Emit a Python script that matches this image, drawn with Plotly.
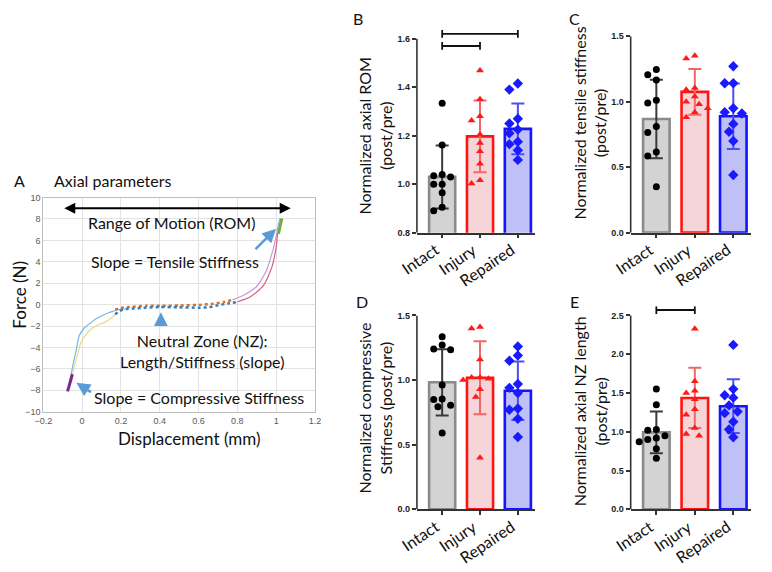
import plotly.graph_objects as go

FONT = "Lato, Open Sans, sans-serif"

# ---------------- Panel A: force-displacement curves ----------------
blue_load_x = [-0.072, -0.062, -0.048, -0.03, -0.015, 0.01, 0.036, 0.065, 0.095, 0.13, 0.162, 0.19, 0.22]
blue_load_y = [-8.0, -7.0, -5.7, -4.2, -2.9, -2.2, -1.8, -1.4, -1.1, -0.8, -0.6, -0.45, -0.4]
yellow_x = [-0.05, -0.035, -0.02, -0.006, 0.02, 0.044, 0.075, 0.11, 0.135, 0.153, 0.17, 0.185]
yellow_y = [-6.5, -5.4, -4.4, -3.5, -2.8, -2.3, -1.95, -1.7, -1.45, -1.2, -0.95, -0.75]
comp_seg_x = [-0.075, -0.05]
comp_seg_y = [-8.1, -6.5]
nz_blue_x = [0.17, 0.19, 0.21, 0.27, 0.33, 0.4, 0.5, 0.6, 0.65, 0.7, 0.75, 0.8]
nz_blue_y = [-0.9, -0.65, -0.45, -0.35, -0.28, -0.22, -0.25, -0.28, -0.25, -0.05, 0.1, 0.25]
nz_orange_x = [0.17, 0.2, 0.25, 0.33, 0.4, 0.5, 0.6, 0.68, 0.73, 0.775]
nz_orange_y = [-0.45, -0.3, -0.2, -0.1, -0.1, -0.08, -0.02, 0.1, 0.25, 0.45]
ten_pink_x = [0.775, 0.835, 0.9, 0.95, 0.987, 1.0, 1.012, 1.02]
ten_pink_y = [0.45, 0.9, 1.7, 3.2, 5.35, 6.4, 7.5, 8.1]
ten_red_x = [0.8, 0.87, 0.936, 0.978, 1.0, 1.007]
ten_red_y = [0.25, 0.76, 1.83, 3.5, 5.35, 6.6]
ten_seg_x = [1.012, 1.029]
ten_seg_y = [6.6, 8.05]

# ---------------- Bar panels ----------------
categories = ["Intact", "Injury", "Repaired"]

rom_mean = [1.03, 1.197, 1.228]
rom_sd = [0.13, 0.148, 0.105]
rom_intact = [1.334, 1.162, 1.04, 1.035, 1.03, 1.0, 1.0, 0.965, 0.905, 0.89]
rom_injury = [1.469, 1.35, 1.28, 1.263, 1.205, 1.17, 1.136, 1.084, 1.016, 1.003]
rom_repaired = [1.415, 1.39, 1.27, 1.25, 1.225, 1.21, 1.175, 1.165, 1.14, 1.1]

tens_mean = [0.868, 1.075, 0.888]
tens_sd = [0.30, 0.175, 0.25]
tens_intact = [1.245, 1.205, 1.165, 1.01, 0.99, 0.81, 0.765, 0.615, 0.585, 0.35]
tens_injury = [1.35, 1.33, 1.105, 1.09, 1.04, 1.0, 0.98, 0.95, 0.92, 0.88]
tens_repaired = [1.27, 1.14, 1.14, 0.95, 0.92, 0.91, 0.83, 0.77, 0.7, 0.44]

comp_mean = [0.983, 1.018, 0.917]
comp_sd = [0.256, 0.283, 0.226]
comp_intact = [1.335, 1.272, 1.24, 1.234, 0.963, 0.854, 0.85, 0.806, 0.793, 0.59]
comp_injury = [1.41, 1.4, 1.16, 1.02, 1.02, 1.01, 1.0, 0.93, 0.87, 0.4]
comp_repaired = [1.26, 1.19, 1.15, 0.97, 0.94, 0.9, 0.78, 0.77, 0.7, 0.56]

nzl_mean = [0.992, 1.436, 1.33]
nzl_sd = [0.27, 0.388, 0.346]
nzl_intact = [1.55, 1.35, 1.03, 1.02, 0.95, 0.92, 0.9, 0.87, 0.78, 0.66]
nzl_injury = [2.33, 1.53, 1.5, 1.65, 1.42, 1.29, 1.22, 1.05, 0.97, 0.95]
nzl_repaired = [2.12, 1.55, 1.47, 1.44, 1.34, 1.26, 1.24, 1.13, 1.03, 0.93]

sig_rom = [("Intact", "Repaired", 1.62), ("Intact", "Injury", 1.57)]
sig_nzl = [("Intact", "Injury", 2.57)]

fill_colors = ["#d3d3d3", "#f6d5d9", "#bfc0f6"]
edge_colors = ["#8a8a8a", "#ff1414", "#1414ff"]
err_colors = ["#3a3a3a", "#f06868", "#4d4df0"]
pt_colors = ["#000000", "#ff1a1a", "#1a1aff"]
pt_symbols = ["circle", "triangle-up", "diamond"]
W, H = 772, 572

fig = go.Figure()


def line(x, y, color, width, dash=None):
    fig.add_trace(go.Scatter(x=x, y=y, mode="lines", xaxis="x", yaxis="y",
                             line=dict(color=color, width=width, dash=dash, shape="spline", smoothing=0.6),
                             showlegend=False, hoverinfo="skip"))


line(blue_load_x, blue_load_y, "#74b9e3", 1.2)
line(yellow_x, yellow_y, "#e9d98a", 1.2)
line(ten_pink_x, ten_pink_y, "#c89ad2", 1.2)
line(ten_red_x, ten_red_y, "#d4607e", 1.2)
line(nz_orange_x, nz_orange_y, "#e2711d", 2.5, "dot")
line(nz_blue_x, nz_blue_y, "#2f7fc1", 2.5, "dot")
line(comp_seg_x, comp_seg_y, "#7a2a8c", 3)
line(ten_seg_x, ten_seg_y, "#6cad45", 3)


def swarm(vals, px_per_unit, px_per_cat, d=8.6):
    order = sorted(range(len(vals)), key=lambda i: -vals[i])
    placed = []
    res = [0.0] * len(vals)
    cands = [0, -d / 2, d / 2, -d, d, -1.5 * d, 1.5 * d, -2 * d, 2 * d]
    for i in order:
        y = vals[i] * px_per_unit
        for c in cands:
            if all((c - px) ** 2 + (y - py) ** 2 >= (d * 0.95) ** 2 for px, py in placed):
                placed.append((c, y))
                res[i] = c / px_per_cat
                break
    return res


panels = [
    ("2", rom_mean, rom_sd, [rom_intact, rom_injury, rom_repaired], 246.75),
    ("3", tens_mean, tens_sd, [tens_intact, tens_injury, tens_repaired], 133.3),
    ("4", comp_mean, comp_sd, [comp_intact, comp_injury, comp_repaired], 131.5),
    ("5", nzl_mean, nzl_sd, [nzl_intact, nzl_injury, nzl_repaired], 78.9),
]
PX_CAT = 38.5
for n, means, sds, groups, ppu in panels:
    for k in range(3):
        fig.add_trace(go.Bar(
            x=[k], y=[means[k]], width=0.69, xaxis="x" + n, yaxis="y" + n,
            marker=dict(color=fill_colors[k], line=dict(color=edge_colors[k], width=2.6)),
            error_y=dict(type="data", array=[sds[k]], visible=True, color=err_colors[k],
                         thickness=2, width=6.5),
            showlegend=False, hoverinfo="skip"))
    for k in range(3):
        offs = swarm(groups[k], ppu, PX_CAT)
        fig.add_trace(go.Scatter(
            x=[k + o for o in offs], y=groups[k], mode="markers",
            xaxis="x" + n, yaxis="y" + n,
            marker=dict(color=pt_colors[k], symbol=pt_symbols[k],
                        size=8 if k == 2 else 7, line=dict(width=0)),
            showlegend=False, hoverinfo="skip", cliponaxis=False))


def px_x(px):
    return px / W


def px_y(py):
    return 1 - py / H


axis_font = dict(family="Liberation Sans, Arial", size=9, color="#222222", weight="bold")
layout = dict(
    width=W, height=H, margin=dict(l=0, r=0, t=0, b=0),
    paper_bgcolor="white", plot_bgcolor="white", barmode="overlay",
    font=dict(family=FONT, color="#111111"),
    xaxis=dict(domain=[px_x(35), px_x(312)], range=[-0.2, 1.2], dtick=0.2,
               showgrid=True, gridcolor="#e3e3e3", gridwidth=1, zeroline=False,
               showline=True, mirror=True, linecolor="#bdbdbd", linewidth=1,
               tickfont=dict(family="Liberation Sans, Arial", size=9, color="#595959"),
               ticks="", anchor="y"),
    yaxis=dict(domain=[px_y(414), px_y(196)], range=[-10, 10], dtick=2,
               showgrid=True, gridcolor="#e3e3e3", gridwidth=1, zeroline=False,
               showline=True, mirror=True, linecolor="#bdbdbd", linewidth=1,
               tickfont=dict(family="Liberation Sans, Arial", size=9, color="#595959"),
               ticks="", anchor="x"),
)

bar_axes = {
    "2": dict(xd=[416, 536.7], yd=[231.7, 19.5], yr=[0.8, 1.66], ticks=[0.8, 1.0, 1.2, 1.4, 1.6], top=1.6),
    "3": dict(xd=[634, 756.7], yd=[231.7, 31.7], yr=[0, 1.5], ticks=[0.0, 0.5, 1.0, 1.5], top=1.5),
    "4": dict(xd=[416, 536.7], yd=[513.3, 316], yr=[0, 1.5], ticks=[0.0, 0.5, 1.0, 1.5], top=1.5),
    "5": dict(xd=[634, 756.7], yd=[513.3, 306.5], yr=[0, 2.62], ticks=[0.0, 0.5, 1.0, 1.5, 2.0, 2.5], top=2.5),
}
shapes = []
ann = []
for n, a in bar_axes.items():
    layout["xaxis" + n] = dict(
        domain=[px_x(a["xd"][0]), px_x(a["xd"][1])], range=[-0.667, 2.46],
        tickvals=[0, 1, 2], showticklabels=False,
        showline=True, linecolor="#333333", linewidth=1.6, ticks="outside",
        ticklen=4, tickwidth=1.5, tickcolor="#333333", showgrid=False,
        zeroline=False, anchor="y" + n)
    layout["yaxis" + n] = dict(
        domain=[px_y(a["yd"][0]), px_y(a["yd"][1])], range=a["yr"],
        tickvals=a["ticks"], ticktext=["%.1f" % t for t in a["ticks"]],
        tickfont=axis_font, showline=False, ticks="outside", ticklen=4,
        tickwidth=1.5, tickcolor="#333333", showgrid=False, zeroline=False,
        anchor="x" + n)
    shapes.append(dict(type="line", xref="x%s domain" % n, yref="y" + n,
                       x0=0, x1=0, y0=a["yr"][0], y1=a["top"],
                       line=dict(color="#333333", width=1.6)))
    # rotated category labels, their upper-right end at the tick
    for k, c in enumerate(categories):
        ann.append(dict(x=k, y=0, xref="x" + n, yref="y%s domain" % n, text=c,
                        showarrow=False, textangle=-34, xanchor="right", yanchor="top",
                        xshift=3, yshift=-4, font=dict(family=FONT, size=16, color="#111111")))


def bracket(n, sigs, cap):
    for a, b, lvl in sigs:
        i, j = categories.index(a), categories.index(b)
        path = "M %g,%g L %g,%g M %g,%g L %g,%g M %g,%g L %g,%g" % (
            i, lvl - cap, i, lvl + cap, i, lvl, j, lvl, j, lvl - cap, j, lvl + cap)
        shapes.append(dict(type="path", xref="x" + n, yref="y" + n, path=path,
                           line=dict(color="#111111", width=1.8)))


bracket("2", sig_rom, 0.016)
bracket("5", sig_nzl, 0.05)

layout["shapes"] = shapes

TXT = dict(family=FONT, color="#111111")


def text(x, y, s, size, xanchor="center", yanchor="middle", angle=0):
    ann.append(dict(x=x, y=y, xref="paper", yref="paper", text=s, showarrow=False,
                    xanchor=xanchor, yanchor=yanchor, textangle=angle,
                    font=dict(size=size, **TXT)))


text(px_x(3), px_y(179), "A", 16, xanchor="left")
text(px_x(44), px_y(179), "Axial parameters", 16, xanchor="left")
text(px_x(356), px_y(14), "B", 16)
text(px_x(577), px_y(14), "C", 16)
text(px_x(360), px_y(302), "D", 16)
text(px_x(577), px_y(302), "E", 16)
text(px_x(11), px_y(295), "Force (N)", 17, angle=-90)
text(px_x(184), px_y(441), "Displacement (mm)", 17)
text(px_x(373), px_y(133), "Normalized axial ROM<br>(post/pre)", 16, angle=-90)
text(px_x(592), px_y(120), "Normalized tensile stiffness<br>(post/pre)", 16, angle=-90)
text(px_x(373), px_y(410), "Normalized compressive<br>Stiffness (post/pre)", 16, angle=-90)
text(px_x(592), px_y(413), "Normalized axial NZ length<br>(post/pre)", 16, angle=-90)


def atext(x, y, s, size=16):
    ann.append(dict(x=x, y=y, xref="x", yref="y", text=s, showarrow=False,
                    font=dict(size=size, **TXT), align="center"))


def arrow(x0, y0, x1, y1, color, width, side="end"):
    ann.append(dict(x=x1, y=y1, ax=x0, ay=y0, xref="x", yref="y", axref="x", ayref="y",
                    text="", showarrow=True, arrowhead=2, arrowsize=1.1, arrowwidth=width,
                    arrowcolor=color, arrowside=side))


arrow(-0.1, 9.0, 1.075, 9.0, "#000000", 2, side="end+start")
atext(0.46, 7.7, "Range of Motion (ROM)")
atext(0.48, 4.0, "Slope = Tensile Stiffness")
atext(0.616, -4.3, "Neutral Zone (NZ):<br>Length/Stiffness (slope)")
atext(0.603, -8.7, "Slope = Compressive Stiffness")
arrow(0.886, 5.05, 1.0, 7.1, "#5b9bd5", 2.5)
arrow(0.406, -2.0, 0.406, -0.7, "#5b9bd5", 2.5)
arrow(0.053, -8.26, -0.03, -7.3, "#5b9bd5", 2.5)

layout["annotations"] = ann
fig.update_layout(**layout)
fig.write_html("out.html", config={"displayModeBar": False},
               post_script="document.body.style.margin='0';document.body.style.overflow='hidden';")
